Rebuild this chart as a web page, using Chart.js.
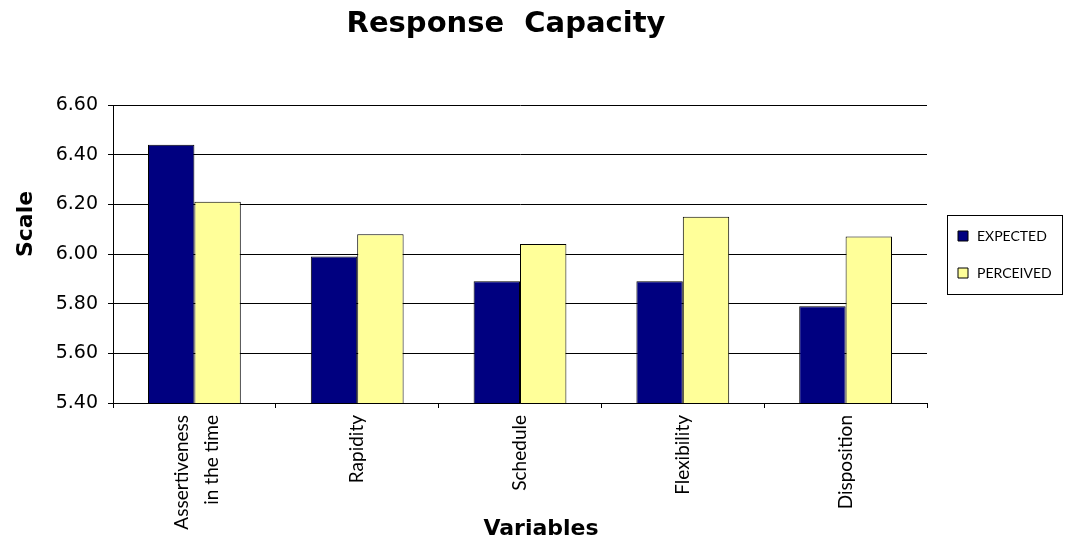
<!DOCTYPE html>
<html>
<head>
<meta charset="utf-8">
<script src="https://cdn.jsdelivr.net/npm/chart.js@4"></script>
<style>
html,body{margin:0;padding:0;background:#fff;}
canvas{display:block;}
</style>
</head>
<body>
<canvas id="c" width="1065" height="542"></canvas>
<script>
const categories = [['Assertiveness', 'in the time'], 'Rapidity', 'Schedule', 'Flexibility', 'Disposition'];
const expected = [6.44, 5.99, 5.89, 5.89, 5.79];
const perceived = [6.21, 6.08, 6.04, 6.15, 6.07];
const yTicks = [5.40, 5.60, 5.80, 6.00, 6.20, 6.40, 6.60];
const seriesNames = ['EXPECTED', 'PERCEIVED'];
const chartTitle = 'Response  Capacity';
const xTitle = 'Variables';
const yTitle = 'Scale';

// measure legend width so the plot area ends at the same place as the reference
const mctx = document.createElement('canvas').getContext('2d');
mctx.font = '14px Lato';
const maxLegendText = Math.max(...seriesNames.map(s => mctx.measureText(s).width));
const legendWidth = 23 + 14 + 7 + maxLegendText;
const rightPad = Math.max(0, 1065 - 927 - legendWidth - 10);

const decor = {
  id: 'decor',
  afterLayout(chart) {
    const lg = chart.legend;
    const w = lg.width;
    lg.left = 933; lg.right = lg.left + w;
    lg.top = 206; lg.bottom = lg.top + 100; lg.height = 100;
  },
  beforeDraw(chart) {
    const items = chart.scales.x.getLabelItems();
    if (items && items.length && !items._shifted) {
      items[0].options.translation[0] -= 13;
      items._shifted = true;
    }
  },
  afterDraw(chart) {
    const ctx = chart.ctx;
    const lg = chart.legend;
    ctx.save();
    ctx.fillStyle = '#000';
    ctx.textAlign = 'center';
    ctx.textBaseline = 'alphabetic';
    ctx.font = 'bold 29px "DejaVu Sans"';
    ctx.fillText(chartTitle, 506, 32);
    ctx.font = 'bold 22px "DejaVu Sans"';
    ctx.fillText(xTitle, 541, 535);
    ctx.translate(32, 224);
    ctx.rotate(-Math.PI / 2);
    ctx.fillText(yTitle, 0, 0);
    ctx.restore();
    // legend frame
    ctx.save();
    ctx.strokeStyle = '#000';
    ctx.lineWidth = 1;
    ctx.strokeRect(lg.left + 14.5, lg.top + 9.5, 115, 79);
    ctx.restore();
  }
};

new Chart(document.getElementById('c'), {
  type: 'bar',
  data: {
    labels: categories,
    datasets: [
      { label: seriesNames[0], data: expected, backgroundColor: '#000080', borderColor: '#000', borderWidth: 1,
        categoryPercentage: 0.57, barPercentage: 1.0 },
      { label: seriesNames[1], data: perceived, backgroundColor: '#FFFF99', borderColor: '#000', borderWidth: 1,
        categoryPercentage: 0.57, barPercentage: 1.0 }
    ]
  },
  options: {
    responsive: false,
    animation: false,
    events: [],
    layout: { padding: { top: 105, left: 0, right: rightPad, bottom: 0 } },
    plugins: {
      title: { display: false },
      tooltip: { enabled: false },
      legend: {
        display: true,
        position: 'right',
        align: 'start',
        labels: {
          usePointStyle: true,
          pointStyle: 'rect',
          boxWidth: 14,
          boxHeight: 10,
          padding: 23,
          color: '#000',
          font: { family: 'Lato', size: 14 }
        }
      }
    },
    scales: {
      x: {
        offset: true,
        grid: { display: true, drawOnChartArea: false, drawTicks: true, tickLength: 5, color: '#000', offset: true },
        border: { display: true, color: '#000' },
        ticks: {
          autoSkip: false,
          minRotation: 90,
          maxRotation: 90,
          padding: 7,
          color: '#000',
          font: { family: 'Lato', size: 19, lineHeight: 1.58 }
        },
        afterFit(s) { s.height = 139; }
      },
      y: {
        min: yTicks[0],
        max: yTicks[yTicks.length - 1],
        afterBuildTicks(s) { s.ticks = yTicks.map(v => ({ value: v })); },
        grid: { color: '#000', lineWidth: 1, tickLength: 5, drawTicks: true },
        border: { display: true, color: '#000' },
        ticks: {
          padding: 10,
          color: '#000',
          font: { family: 'DejaVu Sans', size: 19 },
          callback: v => Number(v).toFixed(2)
        },
        afterFit(s) { s.width = 113; }
      }
    }
  },
  plugins: [decor]
});
</script>
</body>
</html>
